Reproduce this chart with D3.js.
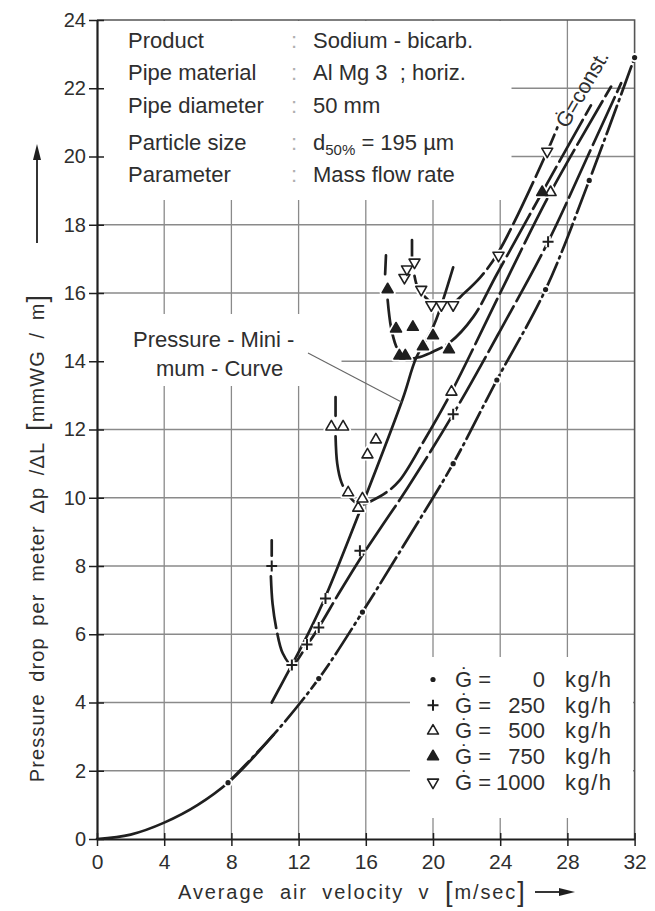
<!DOCTYPE html>
<html>
<head>
<meta charset="utf-8">
<script src="https://cdn.jsdelivr.net/npm/d3@7"></script>
<style>
  html, body { margin: 0; padding: 0; background: #ffffff; }
  svg { display: block; font-family: "Liberation Sans", Arial, sans-serif; }
</style>
</head>
<body>
<svg id="chart" width="655" height="911"></svg>
<script>
// ---- axis ticks ----
const xTicks = [0, 4, 8, 12, 16, 20, 24, 28, 32];
const yTicks = [0, 2, 4, 6, 8, 10, 12, 14, 16, 18, 20, 22, 24];

// ---- test conditions ----
const infoLabels = ["Product", "Pipe material", "Pipe diameter", "Particle size", "Parameter"];
const infoValues = ["Sodium - bicarb.", "Al Mg 3  ; horiz.", "50 mm", null, "Mass flow rate"];
const particleSizeParts = ["d", "50%", " = 195 µm"];

// ---- mass flow rates (kg/h) ----
const massFlowRates = [0, 250, 500, 750, 1000];

// ---- measured points [v (m/s), dp/dL (mmWG/m)] ----
const pointsG0 = [[7.8, 1.65], [13.2, 4.7], [15.8, 6.65], [21.2, 11.0], [23.8, 13.45], [26.7, 16.1], [29.3, 19.3], [32.0, 22.9]];
const pointsG250 = [[10.4, 8.0], [11.6, 5.1], [12.5, 5.7], [13.2, 6.2], [13.6, 7.05], [15.65, 8.45], [21.2, 12.45], [26.85, 17.5]];
const pointsG500 = [[13.95, 12.08], [14.65, 12.08], [14.95, 10.15], [15.55, 9.7], [15.8, 9.97], [16.1, 11.26], [16.6, 11.7], [21.1, 13.1], [27.0, 18.95]];
const pointsG750 = [[17.3, 16.1], [17.8, 14.95], [18.8, 15.0], [18.0, 14.16], [18.35, 14.16], [19.4, 14.43], [20.0, 14.75], [20.95, 14.34], [26.5, 18.95]];
const pointsG1000 = [[18.3, 16.45], [18.45, 16.7], [18.9, 16.9], [19.3, 16.1], [19.9, 15.65], [20.5, 15.65], [21.2, 15.65], [23.9, 17.1], [26.8, 20.15]];

// ---- fitted curves, one per mass flow rate ----
const curveG0 = [[0, 0], [2, 0.13], [4, 0.48], [6, 1.0], [7.8, 1.65], [10.5, 3.05], [13.2, 4.7], [15.8, 6.65], [18.5, 8.8], [21.2, 11.0], [23.8, 13.45], [26.7, 16.1], [29.3, 19.3], [32.0, 22.9]];
const curveG250 = [[10.35, 7.7], [10.45, 6.9], [10.7, 6.1], [11.05, 5.45], [11.6, 5.1], [12.5, 5.68], [13.2, 6.2], [14.4, 7.2], [15.65, 8.2], [17.0, 9.2], [18.5, 10.3], [21.2, 12.45], [24.0, 14.9], [26.85, 17.5], [29.2, 20.0], [31.2, 22.15]];
const curveG500 = [[14.2, 11.8], [14.3, 11.0], [14.55, 10.45], [15.0, 10.05], [15.5, 9.82], [15.8, 9.8], [16.3, 9.9], [17.2, 10.15], [18.0, 10.5], [19.5, 11.7], [21.1, 13.1], [24.0, 16.0], [27.0, 18.95], [30.6, 22.05]];
const curveG750 = [[17.3, 15.8], [17.5, 15.0], [17.8, 14.45], [18.2, 14.1], [19.2, 14.12], [20.0, 14.28], [21.0, 14.55], [22.4, 15.3], [23.8, 16.55], [26.5, 18.95], [29.4, 21.5]];
const curveG1000 = [[18.9, 16.5], [19.1, 16.15], [19.5, 15.9], [19.9, 15.72], [20.5, 15.62], [21.2, 15.7], [21.7, 15.92], [22.8, 16.45], [23.9, 17.2], [26.8, 20.15], [27.4, 20.85]];

// short upper stubs of the left-hand branches
const stubG250 = [[10.4, 8.3], [10.4, 8.75]];
const stubG500 = [[14.2, 12.4], [14.2, 12.95]];
const stubG750 = [[17.15, 16.55], [17.2, 17.1]];
const stubG1000 = [[18.75, 17.0], [18.75, 17.55]];

// pressure-minimum curve through the minima of each curve
const pressureMinimum = [[10.4, 4.0], [11.6, 5.1], [12.6, 6.05], [13.6, 7.1], [15.8, 9.8], [18.2, 12.9], [19.0, 14.1], [20.0, 15.0], [20.5, 15.65], [21.2, 16.75]];
const pressureMinLabel = ["Pressure - Mini -", "mum - Curve"];

// ---- layout ----
const svg = d3.select("#chart");
const x = d3.scaleLinear().domain([0, 32]).range([97, 634.6]);
const y = d3.scaleLinear().domain([0, 24]).range([839, 20]);
const ink = "#1f1f1f";
const textInk = "#2e2e2e";

// grid
const grid = svg.append("g").attr("stroke", "#8a8a8a").attr("stroke-width", 1.3);
grid.selectAll("line.gv").data(xTicks.slice(1, -1)).join("line").attr("class", "gv")
  .attr("x1", d => x(d)).attr("x2", d => x(d)).attr("y1", y(24)).attr("y2", y(0));
grid.selectAll("line.gh").data(yTicks.slice(1, -1)).join("line").attr("class", "gh")
  .attr("x1", x(0)).attr("x2", x(32)).attr("y1", d => y(d)).attr("y2", d => y(d));

// frame (top and right)
svg.append("path")
  .attr("d", `M${x(0)},${y(24)}H${x(32)}V${y(0)}`)
  .attr("fill", "none").attr("stroke", "#555").attr("stroke-width", 1.6);

// blank panels behind the text blocks
const panels = svg.append("g").attr("fill", "#ffffff");
panels.append("rect").attr("x", 98.5).attr("y", 21).attr("width", 413).attr("height", 179);
panels.append("rect").attr("x", 98.5).attr("y", 314).attr("width", 243).attr("height", 72);
panels.append("rect").attr("x", 410).attr("y", 657).attr("width", 223).attr("height", 161);

// axes
const yAxis = d3.axisLeft(y).tickValues(yTicks).tickSize(8).tickSizeOuter(0).tickPadding(3);
const gy = svg.append("g").attr("transform", `translate(${x(0)},0)`).call(yAxis);
gy.select(".domain").attr("stroke", ink).attr("stroke-width", 2.2);
gy.selectAll(".tick line").attr("x1", 7).attr("stroke", ink).attr("stroke-width", 1.5);
gy.selectAll(".tick text").attr("font-size", 20).attr("fill", textInk)
  .attr("font-family", "'Liberation Sans', Arial, sans-serif");

const xAxis = d3.axisBottom(x).tickValues(xTicks).tickSize(7).tickSizeOuter(0).tickPadding(8);
const gx = svg.append("g").attr("transform", `translate(0,${y(0)})`).call(xAxis);
gx.select(".domain").attr("stroke", ink).attr("stroke-width", 2.2);
gx.selectAll(".tick line").attr("y1", -6).attr("stroke", ink).attr("stroke-width", 1.5);
gx.selectAll(".tick text").attr("font-size", 21).attr("fill", textInk)
  .attr("font-family", "'Liberation Sans', Arial, sans-serif");

// axis titles with arrows
const yTitle = svg.append("text")
  .attr("transform", "translate(44,538) rotate(-90)")
  .attr("text-anchor", "middle").attr("font-size", 20).attr("fill", textInk)
  .attr("letter-spacing", 1.1).attr("word-spacing", 5);
yTitle.append("tspan").text("Pressure drop per meter Δp /ΔL ");
yTitle.append("tspan").attr("font-size", 27).attr("dy", 2).text("[");
yTitle.append("tspan").attr("dy", -2).text("mmWG / m");
yTitle.append("tspan").attr("font-size", 27).attr("dy", 2).text("]");
svg.append("line").attr("x1", 37).attr("x2", 37).attr("y1", 243).attr("y2", 156)
  .attr("stroke", ink).attr("stroke-width", 1.8);
svg.append("path").attr("d", "M37,144 L33,160 L41,160 Z").attr("fill", ink);

const xTitle = svg.append("text")
  .attr("x", 178).attr("y", 899).attr("font-size", 20).attr("fill", textInk)
  .attr("letter-spacing", 1.9).attr("word-spacing", 7);
xTitle.append("tspan").text("Average air velocity v ");
xTitle.append("tspan").attr("font-size", 27).attr("dy", 2).text("[");
xTitle.append("tspan").attr("dy", -2).text("m/sec");
xTitle.append("tspan").attr("font-size", 27).attr("dy", 2).text("]");
svg.append("line").attr("x1", 535).attr("x2", 562).attr("y1", 892).attr("y2", 892)
  .attr("stroke", ink).attr("stroke-width", 1.8);
svg.append("path").attr("d", "M575,892 L559,888 L559,896 Z").attr("fill", ink);

// info block
const info = svg.append("g").attr("font-size", 22).attr("fill", textInk);
const infoBaselines = [48, 80, 113, 150, 182];
infoLabels.forEach((label, i) => {
  info.append("text").attr("x", 128).attr("y", infoBaselines[i]).text(label);
  info.append("text").attr("x", 291).attr("y", infoBaselines[i]).attr("fill", "#b0b0b0").text(":");
  if (infoValues[i] !== null) {
    info.append("text").attr("x", 313).attr("y", infoBaselines[i])
      .style("white-space", "pre").text(infoValues[i]);
  } else {
    const t = info.append("text").attr("x", 313).attr("y", infoBaselines[i]);
    t.append("tspan").text(particleSizeParts[0]);
    t.append("tspan").attr("font-size", 15).attr("dy", 5).text(particleSizeParts[1]);
    t.append("tspan").attr("dy", -5).text(particleSizeParts[2]);
  }
});

// curves
const line = d3.line().x(d => x(d[0])).y(d => y(d[1])).curve(d3.curveCatmullRom.alpha(0.5));
const smooth = d3.line().x(d => x(d[0])).y(d => y(d[1])).curve(d3.curveMonotoneX);
const straight = d3.line().x(d => x(d[0])).y(d => y(d[1]));
const gc = svg.append("g").attr("fill", "none").attr("stroke", ink).attr("stroke-width", 2.7)
  .attr("stroke-linecap", "round");
// zero-load curve: continuous near the origin, dash-dot above
gc.append("path").attr("d", smooth(curveG0.slice(0, 6)));
gc.append("path").attr("d", line(curveG0.slice(4))).attr("stroke-dasharray", "30,5,2,5");
const curves = [
  { pts: curveG250, dash: "52,6" },
  { pts: curveG500, dash: "50,6" },
  { pts: curveG750, dash: "48,6" },
  { pts: curveG1000, dash: "46,6" }
];
curves.forEach(c => gc.append("path").attr("d", line(c.pts)).attr("stroke-dasharray", c.dash));
[stubG250, stubG500, stubG750, stubG1000].forEach(s => gc.append("path").attr("d", straight(s)));
gc.append("path").attr("d", line(pressureMinimum));

// pressure-minimum label and leader
svg.append("line").attr("x1", 308).attr("y1", 353).attr("x2", x(18.15)).attr("y2", y(12.8))
  .attr("stroke", "#666").attr("stroke-width", 1.1);
const pm = svg.append("g").attr("font-size", 22).attr("fill", textInk);
pm.append("text").attr("x", 133).attr("y", 347).text(pressureMinLabel[0]);
pm.append("text").attr("x", 156).attr("y", 376).text(pressureMinLabel[1]);

// "G = const." label along the curve bundle
svg.append("text")
  .attr("transform", "translate(582,89) rotate(-60)")
  .attr("text-anchor", "middle").attr("dy", "0.35em")
  .attr("font-size", 21).attr("fill", textInk)
  .text("Ġ=const.");

// markers
const triUp = d3.symbol(d3.symbolTriangle, 52)();
function drawMarker(g, kind, cx, cy, halo) {
  const t = `translate(${cx},${cy})`;
  const sw = halo ? 5 : 1.6;
  const st = halo ? "#ffffff" : ink;
  if (kind === 0) {
    g.append("circle").attr("cx", cx).attr("cy", cy).attr("r", halo ? 4.5 : 2.6)
      .attr("fill", halo ? "#ffffff" : ink);
  } else if (kind === 1) {
    g.append("path").attr("transform", t).attr("d", "M-5.5,0H5.5M0,-5.5V5.5")
      .attr("stroke", st).attr("stroke-width", halo ? 5.5 : 2).attr("fill", "none");
  } else if (kind === 2) {
    g.append("path").attr("transform", t).attr("d", triUp)
      .attr("fill", "#ffffff").attr("stroke", st).attr("stroke-width", sw).attr("stroke-linejoin", "round");
  } else if (kind === 3) {
    g.append("path").attr("transform", t).attr("d", triUp)
      .attr("fill", halo ? "#ffffff" : ink).attr("stroke", st).attr("stroke-width", sw).attr("stroke-linejoin", "round");
  } else {
    g.append("path").attr("transform", t + " rotate(180)").attr("d", triUp)
      .attr("fill", "#ffffff").attr("stroke", st).attr("stroke-width", sw).attr("stroke-linejoin", "round");
  }
}
const pointSets = [pointsG0, pointsG250, pointsG500, pointsG750, pointsG1000];
const gm = svg.append("g");
[true, false].forEach(halo => {
  pointSets.forEach((pts, k) => pts.forEach(p => drawMarker(gm, k, x(p[0]), y(p[1]), halo)));
});

// legend
const lg = svg.append("g").attr("font-size", 22).attr("fill", textInk);
massFlowRates.forEach((rate, i) => {
  const by = 687 + i * 25.7;
  drawMarker(lg, i, 433, by - 7.5, false);
  lg.append("text").attr("x", 455).attr("y", by).text("Ġ =");
  lg.append("text").attr("x", 545).attr("y", by).attr("text-anchor", "end").text(rate);
  lg.append("text").attr("x", 565).attr("y", by).attr("letter-spacing", 1.5).text("kg/h");
});
</script>
</body>
</html>
